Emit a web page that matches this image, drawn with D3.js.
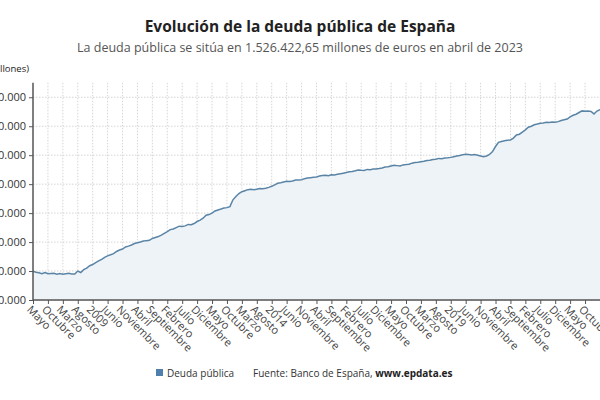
<!DOCTYPE html>
<html><head><meta charset="utf-8">
<script src="https://cdn.jsdelivr.net/npm/d3@7"></script>
<style>
html,body{margin:0;padding:0;background:#fff;overflow:hidden}
text{font-family:"Open Sans",sans-serif}
</style></head>
<body>
<svg id="c" width="600" height="400"></svg>
<script>
// Monthly public debt (millions €), May 2007 – Apr 2023
const debt2007 = [398,392,388,382,390,381,383,384];
const debt2008 = [378,383,378,382,385,380,379,400,390,410,420,437];
const debt2009 = [445,458,470,480,495,505,512,520,535,545,552,566];
const debt2010 = [572,580,590,595,600,607,610,612,625,632,638,648];
const debt2011 = [660,672,686,690,700,710,708,712,722,720,728,742];
const debt2012 = [752,765,785,790,800,815,822,828,835,838,845,892];
const debt2013 = [915,935,948,955,962,965,962,965,970,968,972,978];
const debt2014 = [985,995,1006,1010,1015,1020,1018,1022,1029,1028,1030,1038];
const debt2015 = [1042,1045,1048,1050,1056,1060,1062,1058,1065,1063,1068,1072];
const debt2016 = [1076,1080,1085,1088,1092,1098,1096,1095,1102,1100,1104,1105];
const debt2017 = [1108,1112,1118,1120,1125,1130,1128,1126,1133,1135,1138,1145];
const debt2018 = [1150,1152,1155,1158,1163,1165,1170,1172,1178,1176,1180,1182];
const debt2019 = [1185,1190,1195,1198,1203,1207,1205,1202,1204,1200,1195,1190];
const debt2020 = [1195,1205,1225,1260,1289,1295,1300,1303,1305,1318,1340,1345];
const debt2021 = [1360,1375,1393,1400,1410,1415,1421,1422,1428,1426,1430,1427];
const debt2022 = [1432,1440,1445,1450,1465,1476,1483,1495,1506,1503,1505,1502];
const debt2023 = [1485,1505,1515,1526.42265];

const tickLabels = ["Mayo","Octubre","Marzo","Agosto","2009","Junio","Noviembre","Abril","Septiembre","Febrero","Julio","Diciembre",
 "Mayo","Octubre","Marzo","Agosto","2014","Junio","Noviembre","Abril","Septiembre","Febrero","Julio","Diciembre",
 "Mayo","Octubre","Marzo","Agosto","2019","Junio","Noviembre","Abril","Septiembre","Febrero","Julio","Diciembre",
 "Mayo","Octubre"];
const yTicks = [200000,400000,600000,800000,1000000,1200000,1400000,1600000];

const values = [].concat(debt2007,debt2008,debt2009,debt2010,debt2011,debt2012,debt2013,debt2014,
  debt2015,debt2016,debt2017,debt2018,debt2019,debt2020,debt2021,debt2022,debt2023).map(v=>v*1000);
const data = values.map((v,i)=>({m:i,v:v}));

const svg = d3.select("#c");
const x = d3.scaleLinear().domain([0,191]).range([33,33+191*2.984]);
const y = d3.scaleLinear().domain([200000,1700000]).range([300,82.8]);
const loc = d3.formatLocale({decimal:",",thousands:".",grouping:[3],currency:["","€"]});
const fmt = loc.format(",d");

// title
svg.append("text").attr("x",300).attr("y",32).attr("text-anchor","middle")
  .attr("font-size",15.5).attr("font-weight","bold").attr("fill","#222")
  .text("Evolución de la deuda pública de España");
svg.append("text").attr("x",300).attr("y",52).attr("text-anchor","middle")
  .attr("font-size",12.5).attr("fill","#555")
  .text("La deuda pública se sitúa en 1.526.422,65 millones de euros en abril de 2023");
svg.append("text").attr("x",29).attr("y",72).attr("text-anchor","end")
  .attr("font-size",9.5).attr("fill","#222").text("(Millones)");

// grid
const tickIdx = tickLabels.map((d,i)=>i*5);
svg.append("g").selectAll("line").data(yTicks).join("line")
  .attr("x1",33).attr("x2",600).attr("y1",d=>y(d)).attr("y2",d=>y(d))
  .attr("stroke","#ccc").attr("stroke-dasharray","1.5,1.5").attr("stroke-width",0.8);
svg.append("g").selectAll("line").data(tickIdx.slice(1)).join("line")
  .attr("x1",d=>x(d)).attr("x2",d=>x(d)).attr("y1",82.8).attr("y2",300)
  .attr("stroke","#ccc").attr("stroke-dasharray","1.5,1.5").attr("stroke-width",0.8);

// area + line
svg.append("path").datum(data)
  .attr("d",d3.area().x(d=>x(d.m)).y0(300).y1(d=>y(d.v)))
  .attr("fill","#eef3f8");
svg.append("path").datum(data)
  .attr("d",d3.line().x(d=>x(d.m)).y(d=>y(d.v)))
  .attr("fill","none").attr("stroke","#5a84a6").attr("stroke-width",1.5);

// y axis
const ya = svg.append("g").attr("transform","translate(33,0)")
  .call(d3.axisLeft(y).tickValues(yTicks).tickFormat(fmt).tickSize(4).tickPadding(3));
ya.select(".domain").attr("stroke","#555").attr("stroke-width",1.5).attr("d","M0,82.8V300");
ya.selectAll(".tick line").attr("stroke","#555");
ya.selectAll("text").attr("font-size",11).attr("fill","#333").attr("font-family","Open Sans");

// x axis
const xa = svg.append("g").attr("transform","translate(0,300)")
  .call(d3.axisBottom(x).tickValues(tickIdx).tickFormat((d,i)=>tickLabels[i]).tickSize(4).tickPadding(2));
xa.select(".domain").attr("stroke","#555").attr("stroke-width",1.5).attr("d","M33,0H600");
xa.selectAll(".tick line").attr("stroke","#555");
xa.selectAll("text").attr("font-size",11).attr("fill","#444").attr("font-family","Open Sans")
  .attr("text-anchor","start").attr("dy",null)
  .attr("transform","translate(-3,6) rotate(45)");

// legend
svg.append("rect").attr("x",156).attr("y",369).attr("width",7).attr("height",7).attr("fill","#4f80ad");
svg.append("text").attr("x",167).attr("y",376.5).attr("font-size",10).attr("fill","#333").text("Deuda pública");
const src = svg.append("text").attr("x",253).attr("y",376.5).attr("font-size",10).attr("fill","#333");
src.append("tspan").text("Fuente: Banco de España, ");
src.append("tspan").attr("font-weight","bold").attr("fill","#222").text("www.epdata.es");
</script>
</body></html>
